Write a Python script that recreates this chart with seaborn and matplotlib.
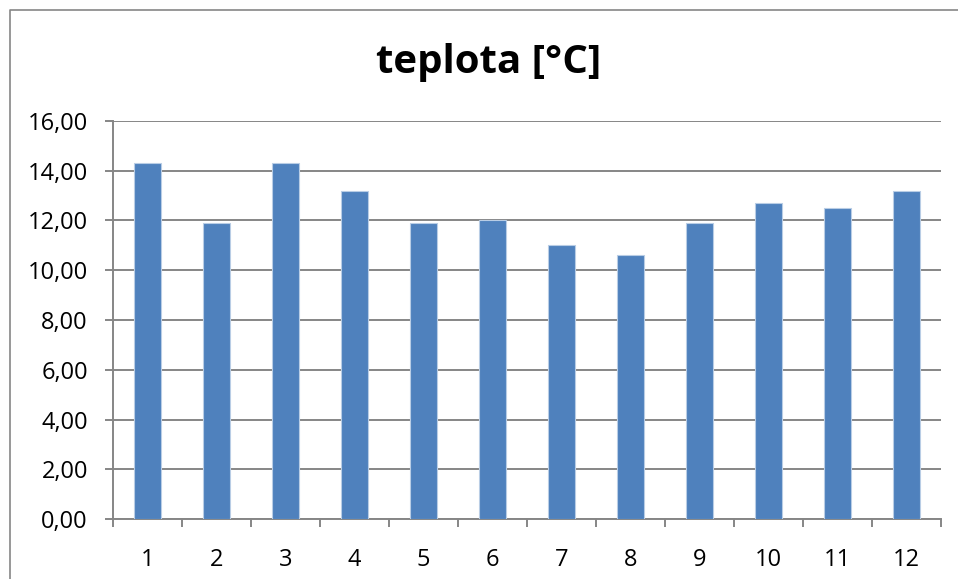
import matplotlib
matplotlib.use("Agg")
import matplotlib.pyplot as plt
from matplotlib.lines import Line2D
from matplotlib.ticker import FuncFormatter, FixedLocator
import seaborn as sns
import pandas as pd

# Monthly temperature values
months = ["1", "2", "3", "4", "5", "6", "7", "8", "9", "10", "11", "12"]
temps = [14.3, 11.9, 14.3, 13.2, 11.9, 12.0, 11.0, 10.6, 11.9, 12.7, 12.5, 13.2]
yticks = [0, 2, 4, 6, 8, 10, 12, 14, 16]
title = "teplota [°C]"

sns.set_theme(style="white")
plt.rcParams["font.family"] = ["Open Sans", "DejaVu Sans"]

W, H = 958, 579
fig = plt.figure(figsize=(W / 100, H / 100), dpi=100)
ax = fig.add_axes([113 / W, 1 - 519 / H, (941 - 113) / W, (519 - 121) / H])

df = pd.DataFrame({"mesic": months, "teplota": temps})
grid_col = "#868686"
line_w = 1.4

sns.barplot(data=df, x="mesic", y="teplota", color="#4F81BD", saturation=1,
            width=0.4, edgecolor="#b9cde5", linewidth=0.8, ax=ax, zorder=3)

ax.set_xlim(-0.5, len(months) - 0.5)
ax.set_ylim(0, 16)
ax.set_yticks(yticks)
ax.yaxis.set_major_formatter(FuncFormatter(lambda v, p: f"{v:.2f}".replace(".", ",")))
ax.yaxis.grid(True, color=grid_col, linewidth=line_w, zorder=0)
ax.set_axisbelow(True)
ax.set_xlabel("")
ax.set_ylabel("")

for side in ["top", "right"]:
    ax.spines[side].set_visible(False)
for side in ["left", "bottom"]:
    ax.spines[side].set_color(grid_col)
    ax.spines[side].set_linewidth(line_w)

# Category boundary ticks below the x axis
ax.xaxis.set_minor_locator(FixedLocator([i - 0.5 for i in range(len(months) + 1)]))
ax.tick_params(axis="x", which="minor", bottom=True, length=6, width=line_w, color=grid_col)
ax.tick_params(axis="x", which="major", bottom=False, length=0, pad=21, labelsize=17, labelcolor="black")
ax.tick_params(axis="y", which="major", left=True, length=6, width=line_w, color=grid_col,
               pad=12, labelsize=17, labelcolor="black")

fig.text(489 / W, 1 - 62 / H, title, ha="center", va="center",
         fontsize=29, fontweight="bold", color="black")

# Chart area border
fig.add_artist(Line2D([9.5 / W, 9.5 / W, 1.0], [0.0, 1 - 9.5 / H, 1 - 9.5 / H],
                      transform=fig.transFigure, color=grid_col, linewidth=1.2))

fig.savefig("out.png", dpi=100)
